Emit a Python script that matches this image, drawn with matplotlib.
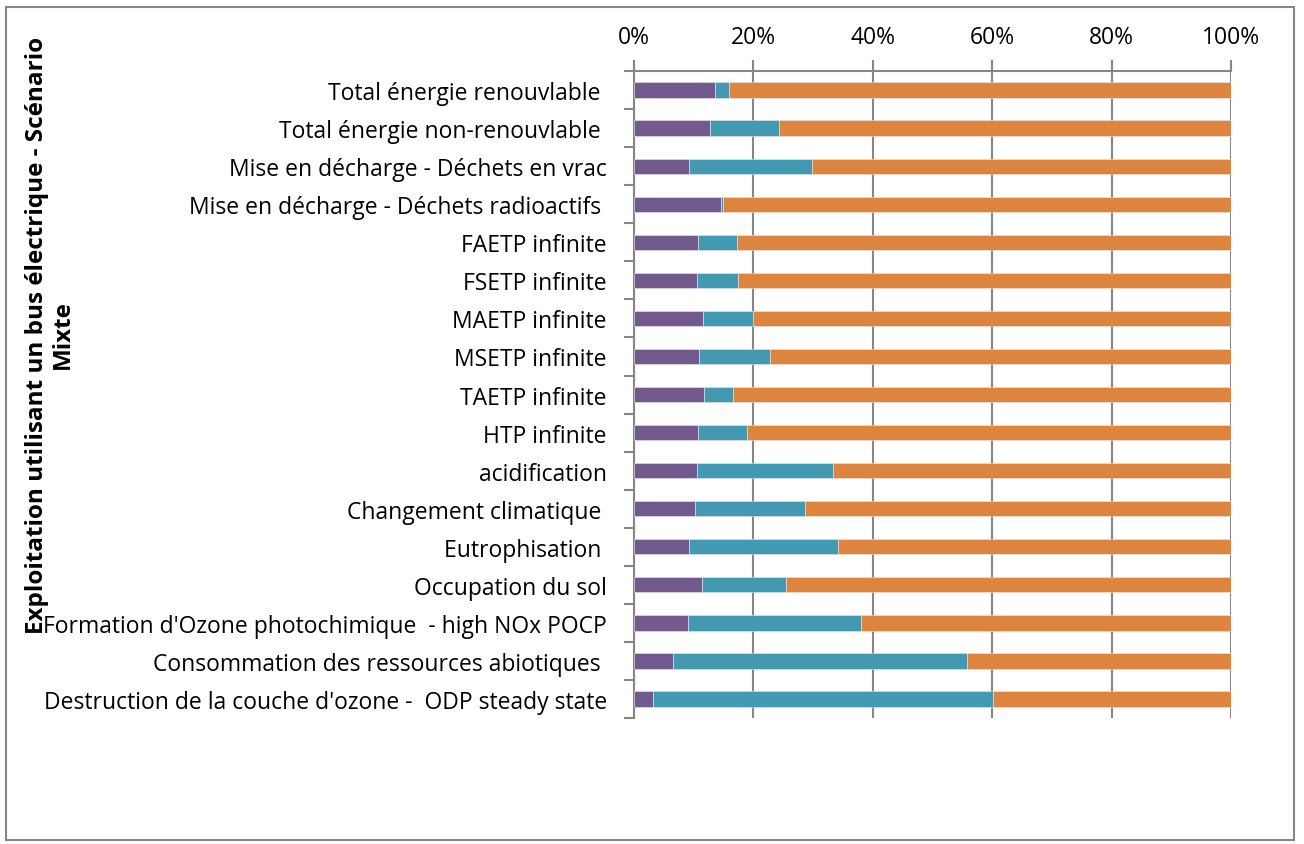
import numpy as np
import matplotlib.pyplot as plt
from matplotlib.patches import Rectangle

categories = [
    "Total énergie renouvlable ",
    "Total énergie non-renouvlable ",
    "Mise en décharge - Déchets en vrac",
    "Mise en décharge - Déchets radioactifs ",
    "FAETP infinite",
    "FSETP infinite",
    "MAETP infinite",
    "MSETP infinite",
    "TAETP infinite",
    "HTP infinite",
    "acidification",
    "Changement climatique ",
    "Eutrophisation ",
    "Occupation du sol",
    "Formation d'Ozone photochimique  - high NOx POCP",
    "Consommation des ressources abiotiques ",
    "Destruction de la couche d'ozone -  ODP steady state",
]

# shares in %
purple = [13.5, 12.7, 9.2, 14.6, 10.7, 10.6, 11.6, 10.9, 11.8, 10.8,
          10.5, 10.3, 9.2, 11.4, 9.0, 6.6, 3.1]
teal = [2.4, 11.6, 20.7, 0.3, 6.6, 6.9, 8.3, 11.9, 4.7, 8.2,
        22.9, 18.4, 24.9, 14.1, 29.0, 49.2, 57.0]
orange = [84.1, 75.7, 70.1, 85.1, 82.7, 82.5, 80.1, 77.2, 83.5, 81.0,
          66.6, 71.3, 65.9, 74.5, 62.0, 44.2, 39.9]

ylabel = "Exploitation utilisant un bus électrique - Scénario\nMixte"

plt.rcParams['font.family'] = ['Open Sans', 'DejaVu Sans']

fig = plt.figure(figsize=(13.04, 8.45), dpi=100)
ax = fig.add_axes([0.4862, 0.149, 0.4578, 0.7658])

y = np.arange(len(categories))
left = np.zeros(len(categories))
for vals, col in zip([purple, teal, orange], ['#725A8F', '#4399B1', '#DD843F']):
    vals = np.array(vals)
    ax.barh(y, vals, left=left, height=0.4, color=col,
            edgecolor='#e8e8e8', linewidth=0.4, zorder=3)
    left += vals

ax.set_ylim(len(categories) - 0.5, -0.5)
ax.set_xlim(0, 100)
ax.set_xticks(np.arange(0, 101, 20))
ax.set_xticklabels([f"{v}%" for v in range(0, 101, 20)])
ax.xaxis.tick_top()
ax.tick_params(axis='x', length=8, width=1.5, color='#868686',
               labelsize=16.5, pad=8)
ax.set_yticks(y)
ax.set_yticklabels(categories)
ax.set_yticks(np.arange(-0.5, len(categories), 1), minor=True)
ax.tick_params(axis='y', which='major', length=0, labelsize=16.5, pad=19.5)
ax.tick_params(axis='y', which='minor', length=7, width=1.5, color='#868686')
ax.grid(axis='x', color='#868686', linewidth=1.5, zorder=0)

for s in ['right', 'bottom']:
    ax.spines[s].set_visible(False)
for s in ['top', 'left']:
    ax.spines[s].set_color('#868686')
    ax.spines[s].set_linewidth(1.5)

fig.text(0.038, 1 - 335 / 845, ylabel, rotation=90, ha='center', va='center',
         fontsize=17.5, fontweight='bold', linespacing=1.1)

fig.patches.append(Rectangle((6 / 1304, 4 / 845), 1288 / 1304, 833 / 845,
                             transform=fig.transFigure, fill=False,
                             edgecolor='#868686', linewidth=1.5))

fig.savefig('out.png', dpi=100)
